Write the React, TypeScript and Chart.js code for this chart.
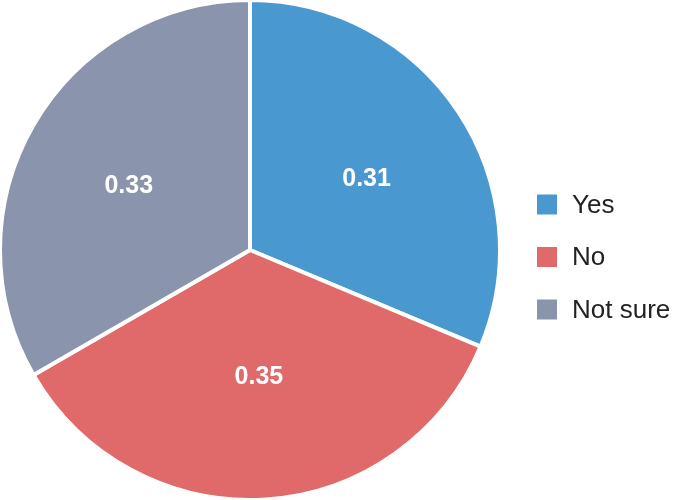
import React, { useEffect, useRef } from "react";
import { Chart, registerables } from "chart.js";

Chart.register(...registerables);

const categories: string[] = ["Yes", "No", "Not sure"];
const values: number[] = [0.31, 0.35, 0.33];
const colors: string[] = ["#4a98d0", "#e06a6a", "#8a95ad"];

const FONT = "'Liberation Sans', Arial, Helvetica, sans-serif";

const sliceLabels = {
  id: "sliceLabels",
  afterDatasetsDraw(chart: any) {
    const { ctx } = chart;
    const meta = chart.getDatasetMeta(0);
    ctx.save();
    ctx.fillStyle = "#ffffff";
    ctx.font = `bold 25px ${FONT}`;
    ctx.textAlign = "center";
    ctx.textBaseline = "middle";
    meta.data.forEach((arc: any, i: number) => {
      const { x, y, startAngle, endAngle, outerRadius } = arc.getProps(
        ["x", "y", "startAngle", "endAngle", "outerRadius"],
        true
      );
      const mid = (startAngle + endAngle) / 2;
      ctx.fillText(
        values[i].toFixed(2),
        x + Math.cos(mid) * outerRadius * 0.56,
        y + Math.sin(mid) * outerRadius * 0.51
      );
    });
    ctx.restore();
  },
};

const sideLegend = {
  id: "sideLegend",
  afterDraw(chart: any) {
    const { ctx, chartArea } = chart;
    const x0 = chartArea.right + 37;
    const box = 20;
    const gap = 52.5;
    const cy = (chartArea.top + chartArea.bottom) / 2 + 7;
    ctx.save();
    ctx.font = `26px ${FONT}`;
    ctx.textAlign = "left";
    ctx.textBaseline = "middle";
    categories.forEach((c, i) => {
      const y = cy + (i - (categories.length - 1) / 2) * gap;
      ctx.fillStyle = colors[i];
      ctx.fillRect(x0, y - box / 2, box, box);
      ctx.fillStyle = "#222222";
      ctx.fillText(c, x0 + 35, y + 1);
    });
    ctx.restore();
  },
};

export default function App() {
  const ref = useRef<HTMLCanvasElement | null>(null);
  useEffect(() => {
    document.body.style.margin = "0";
    if (!ref.current) return;
    const chart = new Chart(ref.current, {
      type: "pie",
      data: {
        labels: categories,
        datasets: [
          {
            data: values,
            backgroundColor: colors,
            borderColor: "#ffffff",
            borderWidth: 4,
          },
        ],
      },
      options: {
        animation: false,
        responsive: true,
        maintainAspectRatio: false,
        radius: 250,
        layout: { padding: { left: 0, top: 0, bottom: 0, right: 173 } },
        plugins: {
          legend: { display: false },
          tooltip: { enabled: false },
        },
      } as any,
      plugins: [sliceLabels, sideLegend],
    });
    return () => chart.destroy();
  }, []);
  return (
    <div style={{ width: 673, height: 500, position: "relative" }}>
      <canvas ref={ref} />
    </div>
  );
}
